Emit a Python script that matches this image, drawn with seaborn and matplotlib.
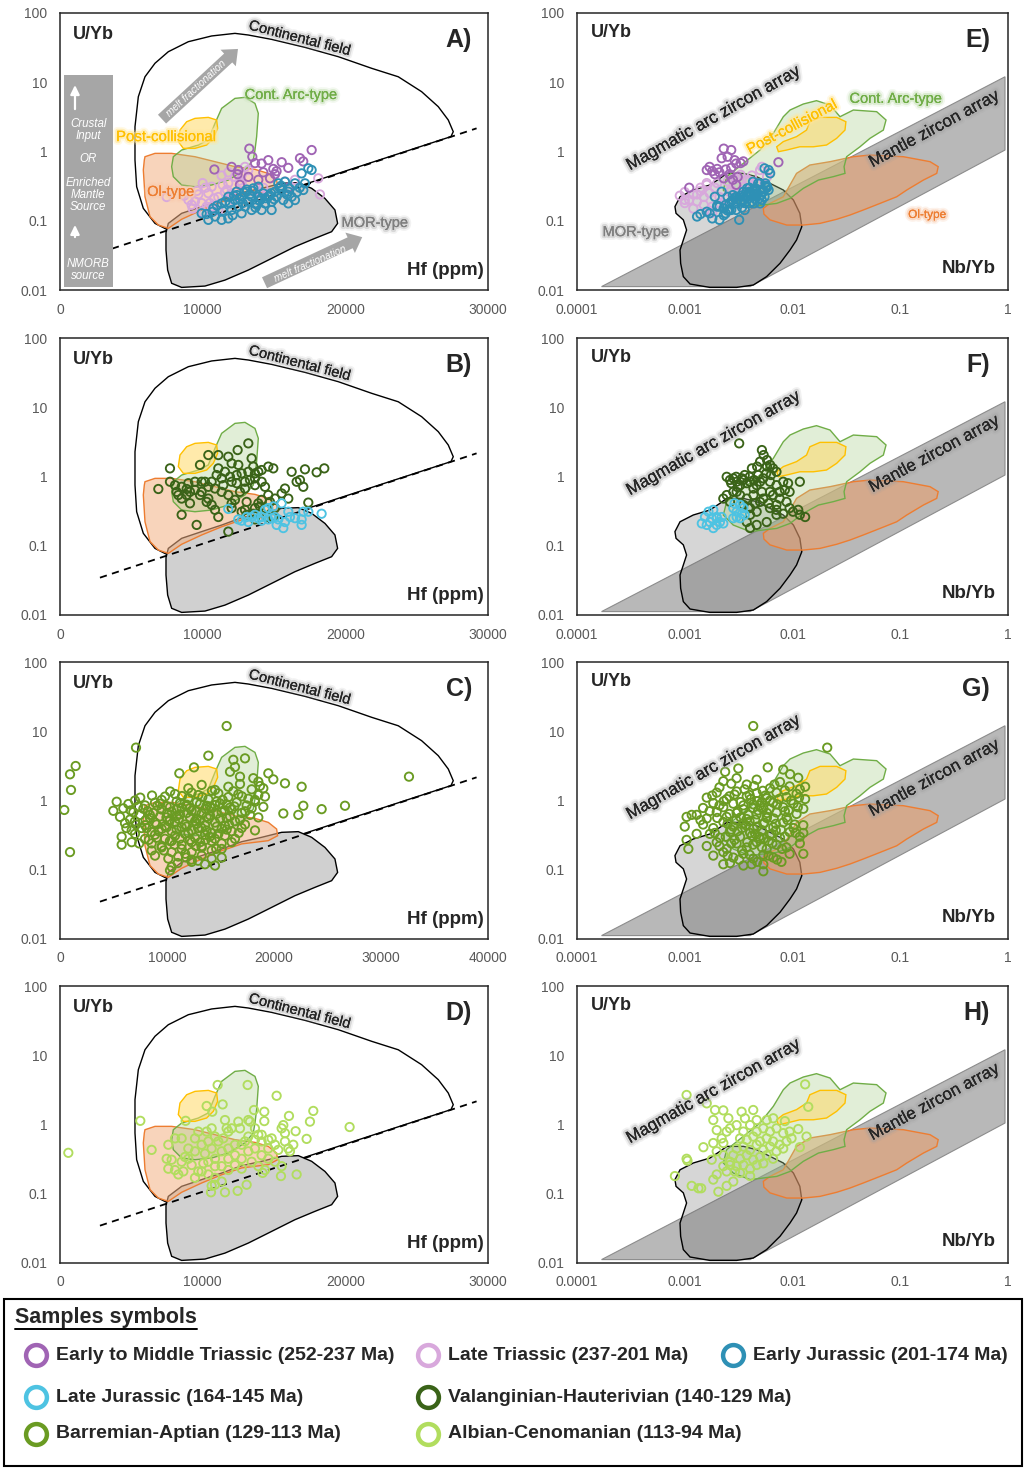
import numpy as np
import matplotlib
matplotlib.use("Agg")
import matplotlib.pyplot as plt
import matplotlib.patheffects as pe
from matplotlib.patches import Rectangle
from matplotlib.colors import to_rgba
from matplotlib.ticker import NullLocator
import seaborn as sns

sns.set_theme(style="white")
plt.rcParams["font.family"] = ["Liberation Sans", "DejaVu Sans"]

# ---------------------------------------------------------------- colours
C_ETR = "#a064b4"   # Early to Middle Triassic
C_LTR = "#d8a8dc"   # Late Triassic
C_EJ = "#2e90b5"    # Early Jurassic
C_LJ = "#4ec3e2"    # Late Jurassic
C_VH = "#3a6318"    # Valanginian-Hauterivian
C_BA = "#6a9b22"    # Barremian-Aptian
C_AC = "#b1dd5e"    # Albian-Cenomanian

# ------------------------------------------------- discrimination fields
# Hf (ppm) vs U/Yb  (fields outlined on a 0-30000 ppm axis)
cont_hf = [7476, 6658, 5840, 5373, 5256, 5256, 5490, 5957, 6658, 7592, 8994, 10629,
           12264, 13199, 14834, 17170, 19506, 21842, 23711, 25346, 26514, 27215,
           27565, 27402]
cont_uyb = [0.0752, 0.0916, 0.151, 0.310, 0.753, 2.28, 6.18, 12.0, 18.8, 27.6, 38.5,
            46.6, 50.8, 48.1, 41.6, 31.9, 23.4, 15.9, 12.0, 7.31, 4.44, 2.85, 1.93, 1.64]
morh_hf = [7592, 8527, 9928, 11330, 12732, 14133, 15535, 16703, 17637, 18572, 19272,
           19459, 19039, 17871, 16469, 14834, 13199, 11564, 10162, 8527, 7826, 7546,
           7429, 7429]
morh_uyb = [0.0916, 0.128, 0.160, 0.199, 0.254, 0.294, 0.347, 0.355, 0.294, 0.210,
            0.143, 0.0916, 0.0695, 0.0557, 0.0422, 0.0286, 0.0194, 0.0139, 0.0114,
            0.0109, 0.0125, 0.0194, 0.0378, 0.0673]
oih_hf = [5957, 6658, 7826, 9461, 10863, 12264, 13666, 14600, 15184, 15254, 14600,
          12732, 11330, 9928, 8527, 7592, 6892, 6308, 5957, 5840, 5910]
oih_uyb = [0.841, 0.940, 0.940, 0.841, 0.713, 0.604, 0.552, 0.483, 0.387, 0.310,
           0.263, 0.236, 0.188, 0.143, 0.105, 0.0776, 0.0867, 0.115, 0.222, 0.541, 0.753]
arch_hf = [7826, 7943, 8527, 9695, 10396, 10863, 11330, 12264, 12965, 13666, 13900,
           13783, 13666, 13549, 12965, 11797, 10629, 9461, 8527, 7943]
arch_uyb = [0.604, 0.841, 1.05, 1.24, 1.47, 2.55, 4.20, 5.85, 6.05, 4.95, 3.56, 1.64,
            1.05, 0.753, 0.541, 0.387, 0.328, 0.310, 0.328, 0.433]
pch_hf = [8293, 8410, 8877, 9461, 10396, 10980, 11050, 10746, 10279, 9461, 8643]
pch_uyb = [1.39, 2.04, 2.69, 3.01, 3.11, 2.85, 2.16, 1.55, 1.24, 1.11, 1.11]
divide_hf = [2800, 29200]
divide_uyb = [0.0346, 2.16]

# Nb/Yb vs U/Yb
mantle_nb = [0.000169, 0.938, 0.938, 0.00404]
mantle_uyb = [0.0112, 12.0, 1.05, 0.0112]
morn_nb = [0.000811, 0.000904, 0.00120, 0.00171, 0.00212, 0.00245, 0.00350, 0.00465,
           0.00618, 0.00822, 0.0102, 0.0117, 0.0122, 0.0109, 0.00948, 0.00766,
           0.00575, 0.00433, 0.00303, 0.00171, 0.00112, 0.000970, 0.000916, 0.000904,
           0.000970, 0.00104, 0.000970, 0.000830]
morn_uyb = [0.160, 0.222, 0.278, 0.328, 0.409, 0.483, 0.483, 0.433, 0.347, 0.278,
            0.199, 0.128, 0.0820, 0.0527, 0.0378, 0.0243, 0.0156, 0.0118, 0.0109,
            0.0109, 0.0122, 0.0156, 0.0243, 0.0378, 0.0527, 0.0735, 0.103, 0.128]
arcn_nb = [0.00822, 0.00948, 0.0126, 0.0167, 0.0223, 0.0276, 0.0367, 0.0604, 0.0738,
           0.0697, 0.0524, 0.0423, 0.0318, 0.0301, 0.0307, 0.0239, 0.0174, 0.0126,
           0.00948, 0.00713, 0.00536, 0.00404, 0.00282, 0.00228, 0.00245, 0.00350,
           0.00499, 0.00664]
arcn_uyb = [3.18, 3.97, 4.85, 5.42, 4.69, 3.18, 3.97, 3.76, 2.85, 2.04, 1.55, 1.17,
            0.841, 0.604, 0.483, 0.433, 0.387, 0.294, 0.210, 0.178, 0.169, 0.160,
            0.199, 0.278, 0.433, 0.675, 1.05, 1.83]
pcn_nb = [0.00713, 0.00822, 0.0109, 0.0135, 0.0145, 0.0180, 0.0257, 0.0313, 0.0307,
          0.0257, 0.0207, 0.0156, 0.0117, 0.00883, 0.00740]
pcn_uyb = [1.17, 1.39, 1.64, 2.04, 2.69, 3.11, 3.11, 2.69, 2.04, 1.55, 1.24, 1.17,
           1.17, 1.05, 0.993]
oin_nb = [0.00536, 0.00618, 0.00822, 0.0109, 0.0145, 0.0223, 0.0367, 0.0524, 0.107,
          0.189, 0.225, 0.218, 0.164, 0.115, 0.0927, 0.0649, 0.0454, 0.0342, 0.0257,
          0.0180, 0.0126, 0.00883, 0.00618, 0.00543]
oin_uyb = [0.151, 0.178, 0.222, 0.483, 0.638, 0.713, 0.841, 0.889, 0.841, 0.713,
           0.604, 0.483, 0.387, 0.278, 0.222, 0.178, 0.143, 0.121, 0.105, 0.0916,
           0.0867, 0.0867, 0.103, 0.125]

# ----------------------------------------------------------- zircon data
# Early to Middle Triassic (A, E)
etr_hf = [13270, 17640, 13480, 16820, 14600, 17050, 15540, 13670, 14130, 12030, 16000,
          14950, 10820, 12500, 15180, 14250, 15070, 12450, 13200, 14720, 13900, 16000,
          12610]
etr_nb = [0.0023, 0.0027, 0.0025, 0.0022, 0.0029, 0.0035, 0.0074, 0.0033, 0.0030,
          0.0017, 0.0027, 0.0020, 0.0024, 0.0016, 0.0018, 0.0021, 0.0026, 0.0019,
          0.0031, 0.0023, 0.0028, 0.0011, 0.0030]
etr_uyb = [1.10, 1.05, 0.84, 0.80, 0.75, 0.72, 0.70, 0.68, 0.67, 0.60, 0.58, 0.56,
           0.55, 0.54, 0.52, 0.50, 0.47, 0.47, 0.43, 0.41, 0.39, 0.30, 0.33]

# Late Triassic (A, E)
ltr_hf = [12965, 13199, 11797, 12732, 11330, 12264, 18104, 16469, 15768, 11797, 12732,
          10629, 14250, 13666, 14016, 11564, 10396, 18221, 9695, 7476, 11096, 12148,
          9461, 9928, 9227, 10279, 10629, 11096, 10045,
          9000, 9600, 10200, 10800, 11400, 12000, 9300, 10500, 11700, 8700, 12600, 10000]
ltr_nb = [0.0052, 0.0050, 0.0062, 0.0033, 0.0042, 0.0058, 0.0030, 0.0038, 0.0025,
          0.0020, 0.0046, 0.0035, 0.0014, 0.0035, 0.0010, 0.0026, 0.0017, 0.0012,
          0.0013, 0.0021, 0.0015, 0.0010, 0.0013, 0.0010, 0.0015, 0.0018, 0.0023,
          0.0017, 0.0018,
          0.0011, 0.0014, 0.0019, 0.0024, 0.0016, 0.0029, 0.0012, 0.0021, 0.0027,
          0.0009, 0.0040, 0.0016]
ltr_uyb = [0.60, 0.54, 0.50, 0.46, 0.45, 0.43, 0.41, 0.39, 0.37, 0.35, 0.35, 0.31,
           0.30, 0.28, 0.26, 0.26, 0.25, 0.24, 0.24, 0.22, 0.22, 0.20, 0.19, 0.18,
           0.17, 0.16, 0.16, 0.14, 0.13,
           0.20, 0.27, 0.30, 0.21, 0.33, 0.25, 0.15, 0.18, 0.28, 0.23, 0.38, 0.35]

# Early Jurassic (A, E)
ej_hf = [10279, 10396, 9928, 10746, 11330, 11797, 12031, 12498, 12732, 13082, 13432,
         13666, 13900, 14250, 14600, 14834, 15068, 15302, 15768, 16002, 16236, 16469,
         17053, 17170, 17637, 16936, 17404, 15535, 14133, 13432, 12732, 11797, 11330,
         13199, 12264, 13900, 14834, 16002, 14367, 13549, 12965, 11914, 10863, 12381,
         15184, 15652, 16469, 12600, 13300, 14000, 14700, 15400, 13800, 12900, 14400,
         15900, 13100, 12400, 16600,
         11000, 11600, 12200, 12800, 13500, 14100, 14800, 15500, 16100, 16800, 12100,
         13700, 15000, 10700, 11400]
ej_nb = [0.0014, 0.0021, 0.0017, 0.0023, 0.0030, 0.0035, 0.0026, 0.0021, 0.0046,
         0.0040, 0.0025, 0.0040, 0.0019, 0.0047, 0.0030, 0.0033, 0.0054, 0.0056,
         0.0043, 0.0035, 0.0055, 0.0028, 0.0060, 0.0050, 0.0060, 0.0062, 0.0055,
         0.0045, 0.0036, 0.0030, 0.0024, 0.0018, 0.0032, 0.0042, 0.0035, 0.0058,
         0.0027, 0.0044, 0.0050, 0.0038, 0.0020, 0.0026, 0.0013, 0.0022, 0.0038,
         0.0052, 0.0048, 0.0031, 0.0044, 0.0033, 0.0051, 0.0040, 0.0024, 0.0037,
         0.0029, 0.0046, 0.0053, 0.0028, 0.0041,
         0.0020, 0.0027, 0.0033, 0.0036, 0.0043, 0.0049, 0.0039, 0.0057, 0.0046,
         0.0058, 0.0023, 0.0034, 0.0045, 0.0016, 0.0025]
ej_uyb = [0.125, 0.103, 0.128, 0.151, 0.178, 0.222, 0.143, 0.160, 0.222, 0.263, 0.222,
          0.178, 0.222, 0.249, 0.222, 0.188, 0.263, 0.347, 0.366, 0.263, 0.222, 0.199,
          0.278, 0.347, 0.541, 0.483, 0.571, 0.278, 0.143, 0.143, 0.128, 0.108, 0.103,
          0.188, 0.199, 0.311, 0.143, 0.178, 0.178, 0.294, 0.160, 0.178, 0.115, 0.263,
          0.222, 0.199, 0.347, 0.205, 0.240, 0.195, 0.232, 0.300, 0.170, 0.255, 0.212,
          0.240, 0.282, 0.235, 0.258,
          0.165, 0.190, 0.230, 0.180, 0.270, 0.210, 0.250, 0.320, 0.290, 0.300, 0.120,
          0.155, 0.205, 0.135, 0.140]

# Late Jurassic (B, F)
lj_hf = [11797, 12498, 12732, 13199, 13432, 13900, 14133, 14367, 14600, 14951, 15068,
         15184, 15535, 15768, 16002, 16119, 16469, 16936, 17053, 16936, 17404, 18338,
         15652, 15302, 14834, 14600, 14133, 13666, 13082]
lj_hf_uyb = [0.34, 0.24, 0.23, 0.22, 0.26, 0.25, 0.23, 0.33, 0.35, 0.37, 0.26, 0.20,
             0.41, 0.22, 0.31, 0.26, 0.25, 0.24, 0.31, 0.20, 0.31, 0.29, 0.18, 0.24,
             0.25, 0.24, 0.26, 0.28, 0.26]
lj_nb = [0.00144, 0.00154, 0.00166, 0.00184, 0.00171, 0.00198, 0.00212, 0.00198,
         0.00178, 0.00160, 0.00184, 0.00220, 0.00282, 0.00303, 0.00326, 0.00350,
         0.00360, 0.00326, 0.00303, 0.00340, 0.00290, 0.00282, 0.00228, 0.00198]
lj_nb_uyb = [0.21, 0.26, 0.31, 0.33, 0.22, 0.20, 0.22, 0.26, 0.25, 0.20, 0.18, 0.26,
             0.35, 0.31, 0.39, 0.35, 0.28, 0.25, 0.26, 0.29, 0.41, 0.25, 0.21, 0.25]

# Valanginian-Hauterivian (B, F)
vh_hf = [13199, 12451, 10396, 9812, 7709, 11096, 11797, 12031, 12498, 13432, 13549,
         13900, 14133, 14600, 14951, 13199, 12732, 12381, 11914, 11330, 11096, 11564,
         12031, 12381, 12965, 13316, 13666, 14133, 14367, 13666, 16236, 17170, 17988,
         18525, 16586, 16820, 17053, 15768, 15535, 16002, 15068, 14717, 14133, 13900,
         13666, 14367, 15068, 17404, 14951, 14484, 13549, 12965, 12732, 12031, 11797,
         11330, 10863, 10396, 9928, 9461, 8994, 8527, 8060, 7709, 6892, 8293, 8527,
         8877, 9111, 9461, 9928, 10396, 10629, 9111, 8527, 9578, 10863, 11096, 11797,
         13082, 13666, 14016, 12965, 12615, 13666, 14600, 13082, 9812, 10279, 12031,
         12264, 11447, 10629, 10980, 10162, 8877, 8176]
vh_hf_uyb = [3.01, 2.41, 2.04, 1.47, 1.31, 2.04, 1.93, 1.55, 1.47, 1.83, 1.39, 1.17,
             1.24, 1.39, 1.31, 1.17, 1.11, 1.05, 0.99, 0.94, 1.31, 1.17, 0.84, 0.80,
             0.84, 0.89, 0.94, 0.84, 0.71, 0.75, 1.17, 1.27, 1.15, 1.31, 0.84, 0.89,
             0.71, 0.67, 0.57, 0.48, 0.48, 0.43, 0.46, 0.41, 0.35, 0.35, 0.35, 0.42,
             0.26, 0.26, 0.29, 0.33, 0.31, 0.35, 0.54, 0.60, 0.67, 0.71, 0.84, 0.84,
             0.80, 0.71, 0.75, 0.84, 0.66, 0.54, 0.48, 0.54, 0.60, 0.64, 0.60, 0.48,
             0.39, 0.41, 0.28, 0.20, 0.33, 0.26, 0.16, 0.28, 0.24, 0.37, 0.67, 0.60,
             1.11, 0.54, 0.43, 0.54, 0.43, 0.41, 0.46, 0.75, 0.84, 1.05, 0.84, 0.66, 0.60]
vh_nb = [0.0032, 0.0052, 0.0054, 0.0050, 0.0058, 0.0062, 0.0066, 0.0071, 0.0047, 0.0042,
         0.0058, 0.00245, 0.00263, 0.00282, 0.00303, 0.00326, 0.0035, 0.00376, 0.00404,
         0.00434, 0.00465, 0.0050, 0.00536, 0.00618, 0.0071, 0.0082, 0.0091, 0.0117,
         0.0094, 0.0088, 0.0071, 0.00618, 0.00536, 0.0050, 0.00465, 0.00404, 0.00376,
         0.00404, 0.00465, 0.00576, 0.0071, 0.0082, 0.0101, 0.0117, 0.0131, 0.0113,
         0.00228, 0.00263, 0.00245, 0.00282, 0.00303, 0.00326, 0.00376, 0.0035, 0.00404,
         0.00434, 0.0052, 0.00618, 0.0076, 0.0085, 0.0076, 0.0066, 0.0039, 0.0045,
         0.0060, 0.0071, 0.0094, 0.0030, 0.0034, 0.0036, 0.0040, 0.0027, 0.0031, 0.0044,
         0.0048, 0.0057, 0.0063]
vh_nb_uyb = [3.01, 2.41, 2.04, 1.64, 1.73, 1.47, 1.31, 1.17, 1.39, 1.31, 1.39, 0.99,
             0.89, 0.94, 0.84, 0.75, 0.89, 0.80, 0.84, 0.67, 0.75, 0.84, 0.94, 0.84,
             0.75, 0.84, 0.80, 0.84, 0.60, 0.43, 0.39, 0.35, 0.48, 0.43, 0.31, 0.28,
             0.22, 0.18, 0.20, 0.22, 0.28, 0.29, 0.31, 0.28, 0.26, 0.33, 0.48, 0.43,
             0.54, 0.60, 0.60, 0.54, 0.48, 0.39, 0.35, 0.54, 0.60, 0.60, 0.60, 0.64,
             0.48, 0.54, 0.35, 0.41, 0.41, 0.33, 0.35, 0.99, 0.94, 1.05, 0.99, 0.80,
             0.70, 0.89, 1.05, 1.11, 1.05]

# Barremian-Aptian (C, G)
ba_hf = [400, 935, 1028, 935, 1464, 15575, 7102, 13862, 32614, 26634, 24453, 22740,
         22584, 21027, 19937, 19469, 20871, 22272, 17289, 16198, 12522, 11152, 16354,
         16822, 15887, 18068, 18535, 19002, 19158, 18223,
         11993, 13239, 14485, 15731, 16822, 17912, 18690,
         9813, 10747, 11993, 12928, 13862, 14797, 15731, 16666, 17600, 18535,
         5296, 6386, 7009, 7944, 8878, 9969, 10903, 11838, 12772, 13707, 14641, 15575,
         16510, 17444, 18223, 19002,
         4984, 5919, 6853, 7788, 8723, 9501, 10436, 11370, 12305, 13239, 14174, 15108,
         16043, 16977, 17912,
         5607, 6542, 7477, 8411, 9346, 10280, 11215, 12149, 13084, 14018, 14953, 15887,
         16822, 17756, 18535,
         6075, 7009, 7944, 8878, 9813, 10747, 11682, 12616, 13551, 14485, 15420, 16354,
         17289,
         6698, 7632, 8567, 9501, 10436, 11370, 12305, 13239, 14174, 15108, 16043, 16977,
         18223,
         5763, 7009, 7944, 8878, 9813, 10747, 11682, 12616, 13551, 14485, 15420, 16354,
         5763, 6698, 8567, 9501, 10436, 11370, 12305, 13239, 14174, 15108, 16043,
         8567, 9501, 10436, 11370, 12305, 13239, 14174, 15108,
         8878, 10124, 11059, 12305, 13239, 14174, 15108,
         10436, 10280, 12305, 13551, 14485,
         9350, 10280, 11210, 12150, 13090, 14020, 14950, 15890,
         8400, 9950, 10900, 11840, 12780, 13700, 14640, 15580,
         8100, 9030, 9970, 10900, 11840, 12780, 13700, 14640, 15580,
         9030, 10270, 11200, 12150, 13100, 14000,
         7500, 8600, 9500, 10300, 11400, 12300, 13300, 14200, 15200, 16200, 17000,
         6600, 7300, 8200, 9100, 10000, 10900, 11800, 12700, 13600, 14500, 15400,
         16300, 17300,
         6200, 7100, 8000, 9200, 10200, 11100, 12000, 12900, 13900, 14800, 15800, 16700,
         7400, 8300, 9700, 10700, 11700, 12700, 13600, 14600,
         11000, 11800, 12900]
ba_hf_uyb = [0.73, 0.18, 1.42, 2.39, 3.15, 11.9, 5.80, 4.44, 2.21, 0.84, 0.75, 0.84,
             1.58, 1.77, 2.02, 2.47, 0.65, 0.62, 4.06, 3.87, 3.01, 2.47, 3.05, 2.21,
             2.60, 2.10, 1.87, 1.50, 1.14, 1.02,
             1.50, 1.68, 1.42, 1.58, 1.73, 1.45, 1.62,
             1.14, 1.24, 1.08, 1.20, 1.04, 1.27, 1.12, 1.23, 1.06, 1.20,
             0.96, 0.89, 1.00, 0.85, 0.93, 0.83, 0.97, 0.87, 0.95, 0.84, 0.97, 0.88,
             0.94, 0.85, 0.96, 0.81,
             0.71, 0.77, 0.68, 0.76, 0.66, 0.74, 0.69, 0.78, 0.71, 0.65, 0.77, 0.68,
             0.74, 0.66, 0.77,
             0.58, 0.53, 0.62, 0.56, 0.59, 0.53, 0.63, 0.57, 0.52, 0.61, 0.55, 0.59,
             0.53, 0.62, 0.57,
             0.47, 0.50, 0.44, 0.48, 0.43, 0.49, 0.45, 0.50, 0.44, 0.48, 0.43, 0.50,
             0.45,
             0.37, 0.40, 0.35, 0.39, 0.36, 0.41, 0.37, 0.40, 0.34, 0.39, 0.36, 0.40,
             0.37,
             0.30, 0.33, 0.28, 0.32, 0.28, 0.31, 0.33, 0.29, 0.32, 0.28, 0.31, 0.28,
             0.23, 0.25, 0.24, 0.22, 0.26, 0.23, 0.25, 0.22, 0.26, 0.24, 0.25,
             0.19, 0.21, 0.18, 0.20, 0.18, 0.21, 0.19, 0.20,
             0.16, 0.145, 0.155, 0.14, 0.16, 0.145, 0.15,
             0.11, 0.098, 0.13, 0.12, 0.115,
             0.90, 0.80, 0.92, 0.78, 0.89, 0.82, 0.91, 0.79,
             0.62, 0.57, 0.60, 0.66, 0.55, 0.58, 0.64, 0.56,
             0.40, 0.45, 0.41, 0.38, 0.42, 0.46, 0.37, 0.42, 0.38,
             0.29, 0.26, 0.28, 0.27, 0.25, 0.30,
             1.10, 1.18, 1.02, 1.35, 1.16, 1.30, 1.12, 1.38, 1.02, 1.36, 1.15,
             0.72, 0.82, 0.70, 0.84, 0.66, 0.75, 0.83, 0.69, 0.76, 0.86, 0.72, 0.82, 0.70,
             0.40, 0.45, 0.52, 0.36, 0.50, 0.54, 0.34, 0.40, 0.55, 0.33, 0.45, 0.34,
             0.24, 0.27, 0.19, 0.23, 0.17, 0.22, 0.27, 0.20,
             0.125, 0.15, 0.135]
ba_nb = [0.00432, 0.0210, 0.00589, 0.00237, 0.00314, 0.00104, 0.00116, 0.00108, 0.00104,
         0.00100, 0.00129, 0.0082, 0.0095, 0.0113, 0.0131, 0.0126, 0.0126, 0.0079,
         0.00536, 0.00418, 0.00228,
         0.00228, 0.00303, 0.00376, 0.00465, 0.00618, 0.00766, 0.0094, 0.0117,
         0.0016, 0.00198, 0.00245, 0.00303, 0.00376, 0.00465, 0.00576, 0.0071, 0.0088,
         0.0109, 0.0131,
         0.00148, 0.00184, 0.00228, 0.00282, 0.0035, 0.00432, 0.00536, 0.00663, 0.0082,
         0.0102, 0.0126,
         0.00129, 0.0016, 0.00198, 0.00245, 0.00303, 0.00376, 0.00465, 0.00576, 0.0071,
         0.0088, 0.0109,
         0.00148, 0.00184, 0.00228, 0.00282, 0.0035, 0.00432, 0.00536, 0.00663, 0.0082,
         0.0102, 0.0126,
         0.00171, 0.00212, 0.00263, 0.00326, 0.00404, 0.00499, 0.00618, 0.00766, 0.0094,
         0.0117,
         0.0016, 0.00198, 0.00245, 0.00303, 0.00376, 0.00465, 0.00576, 0.0071, 0.0088,
         0.0117,
         0.00184, 0.00228, 0.00282, 0.0035, 0.00432, 0.00536, 0.00663, 0.0094,
         0.00263, 0.0035, 0.00536,
         0.0026, 0.0033, 0.0041, 0.0050, 0.0062, 0.0031, 0.0039, 0.0048, 0.0058, 0.0030,
         0.0037, 0.0045, 0.0055, 0.0067, 0.0027, 0.0034, 0.0042, 0.0052, 0.0064, 0.0029,
         0.0038, 0.0049, 0.0060, 0.0078, 0.0085,
         0.0021, 0.0027, 0.0036, 0.0044, 0.0053, 0.0068, 0.0085,
         0.0018, 0.0023, 0.0029, 0.0040, 0.0047, 0.0056, 0.0075, 0.0097, 0.0115,
         0.0017, 0.0021, 0.0026, 0.0035, 0.0043, 0.0052, 0.0061, 0.0072, 0.0092, 0.0112,
         0.0014, 0.0020, 0.0025, 0.0033, 0.0040, 0.0047, 0.0058, 0.0070, 0.0090, 0.0105,
         0.0019, 0.0024, 0.0031, 0.0045, 0.0054, 0.0070, 0.0085, 0.0107,
         0.0021, 0.0027, 0.0034, 0.0043, 0.0052, 0.0065, 0.0080,
         0.0025, 0.0032, 0.0040, 0.0047, 0.0060, 0.0072]
ba_nb_uyb = [11.9, 5.80, 3.01, 2.60, 2.90, 0.58, 0.62, 0.20, 0.27, 0.42, 0.33, 2.80,
             2.40, 2.13, 1.58, 0.34, 0.17, 0.13, 0.095, 0.12, 0.12,
             1.90, 2.10, 1.70, 2.00, 1.50, 1.85, 1.60, 1.45,
             1.10, 1.30, 1.05, 1.35, 1.15, 1.28, 1.08, 1.30, 1.12, 1.25, 1.05,
             0.78, 0.92, 0.80, 0.90, 0.75, 0.88, 0.78, 0.93, 0.80, 0.90, 0.76,
             0.62, 0.55, 0.68, 0.58, 0.66, 0.54, 0.63, 0.56, 0.67, 0.57, 0.64,
             0.45, 0.40, 0.49, 0.42, 0.47, 0.39, 0.46, 0.41, 0.48, 0.40, 0.44,
             0.33, 0.29, 0.35, 0.30, 0.34, 0.28, 0.32, 0.29, 0.35, 0.30,
             0.22, 0.25, 0.20, 0.24, 0.21, 0.25, 0.20, 0.23, 0.21, 0.24,
             0.16, 0.18, 0.15, 0.17, 0.145, 0.165, 0.15, 0.17,
             0.125, 0.115, 0.12,
             1.15, 0.95, 1.05, 0.85, 1.00, 0.70, 0.62, 0.72, 0.66, 0.52, 0.44, 0.53,
             0.48, 0.55, 0.38, 0.40, 0.31, 0.37, 0.33, 0.27, 0.25, 0.30, 0.26, 0.38, 0.70,
             1.55, 1.75, 1.45, 1.62, 1.38, 1.70, 1.40,
             1.18, 0.98, 1.22, 1.20, 0.98, 1.18, 1.05, 1.00, 1.10,
             0.70, 0.85, 0.64, 0.85, 0.78, 0.95, 0.75, 0.88, 0.72, 0.80,
             0.52, 0.56, 0.46, 0.57, 0.50, 0.42, 0.58, 0.46, 0.52, 0.45,
             0.34, 0.30, 0.36, 0.33, 0.28, 0.37, 0.30, 0.34,
             0.22, 0.24, 0.19, 0.23, 0.21, 0.24, 0.20,
             0.16, 0.14, 0.165, 0.13, 0.16, 0.14]

# Albian-Cenomanian (D, H)
ac_hf = [584, 5630, 11050, 13152, 15184, 17754, 16049, 17520, 20300, 6424, 16586,
         15488, 14203, 12451, 11564, 10583, 13082, 10863, 17287, 16516, 15652, 14320,
         14320, 13596, 11400, 10279, 10676, 8807,
         7592, 7476, 7592, 8060, 8293, 8644, 7826, 8527, 9228, 9461, 9695, 10045,
         10162, 9928, 10396, 10629, 10863, 11096, 11447, 11797, 11564, 11680, 12031,
         12498, 12615, 13199, 13316, 13666, 13900, 14133, 14600, 14834, 15068, 15302,
         15768, 16002, 16119, 16352, 15768, 15535, 12965, 12264, 11797, 11330, 10863,
         10396, 9461, 8994, 8760, 9928, 10396, 10863, 11330, 11797, 12264, 12732,
         13199, 13666, 14133, 14600, 15068, 15535, 12732, 13199, 13666, 14133, 14600,
         13432, 13900, 14367, 10629, 10279, 9695, 9461, 8994, 8527, 8060, 12264,
         12732, 11797, 11330, 10863, 10629]
ac_hf_uyb = [0.39, 1.13, 3.72, 3.72, 2.60, 1.57, 1.33, 1.10, 0.92, 0.43, 0.19, 0.18,
             0.20, 0.11, 0.105, 0.105, 0.135, 0.135, 0.62, 0.80, 0.98, 1.53, 1.12,
             1.62, 1.95, 1.85, 1.53, 1.13,
             0.51, 0.32, 0.23, 0.22, 0.19, 0.21, 0.31, 0.29, 0.26, 0.17, 0.21, 0.275,
             0.38, 0.51, 0.57, 0.45, 0.67, 0.57, 0.63, 0.79, 1.16, 0.88, 0.88, 1.10,
             0.88, 1.16, 1.10, 0.88, 0.71, 0.57, 0.60, 0.63, 0.51, 0.43, 0.57, 0.45,
             0.41, 0.51, 0.75, 0.88, 0.57, 0.51, 0.45, 0.41, 0.32, 0.29, 0.41, 0.45,
             0.34, 0.21, 0.19, 0.17, 0.15, 0.22, 0.26, 0.32, 0.41, 0.45, 0.36, 0.32,
             0.29, 0.25, 0.51, 0.67, 0.60, 0.71, 0.45, 0.29, 0.25, 0.22, 0.88, 0.79,
             0.79, 0.63, 0.32, 0.63, 0.63, 0.36, 0.23, 0.32, 0.25, 0.25, 0.13]
ac_nb = [0.00104, 0.0131, 0.0140, 0.0016, 0.00191, 0.00228, 0.00337, 0.00432, 0.00184,
         0.00254, 0.00263, 0.00198, 0.00362, 0.00465, 0.00576, 0.00663, 0.0085, 0.0113,
         0.0098, 0.0117, 0.0135, 0.00149, 0.00184, 0.00228, 0.00198, 0.00178, 0.00104,
         0.00106, 0.00081, 0.00116, 0.00134, 0.00142, 0.00198, 0.00184, 0.00205,
         0.00245, 0.00282, 0.00292, 0.00263, 0.00228,
         0.00303, 0.0035, 0.00404, 0.00465, 0.00536, 0.00618, 0.0071, 0.0082, 0.0094,
         0.00326, 0.00376, 0.00432, 0.0050, 0.00576, 0.0066, 0.0076, 0.0088,
         0.00303, 0.0035, 0.00404, 0.00465, 0.00536, 0.00618, 0.0071, 0.0082,
         0.00282, 0.00326, 0.00376, 0.00432, 0.0050, 0.00576, 0.0066,
         0.00263, 0.00303, 0.0035, 0.00404, 0.00465, 0.00536,
         0.00245, 0.00326, 0.00404, 0.00228, 0.00245, 0.0022]
ac_nb_uyb = [2.67, 3.80, 1.80, 2.02, 1.62, 1.60, 1.53, 1.62, 1.16, 1.23, 0.88, 0.83,
             1.23, 1.16, 1.16, 1.23, 1.12, 0.86, 0.63, 0.47, 0.67, 0.47, 0.54, 0.54,
             0.41, 0.31, 0.32, 0.30, 0.18, 0.13, 0.12, 0.12, 0.19, 0.16, 0.107, 0.13,
             0.15, 0.21, 0.26, 0.25,
             0.98, 0.79, 0.98, 0.79, 0.88, 0.79, 0.88, 0.75, 0.79,
             0.63, 0.60, 0.67, 0.57, 0.63, 0.57, 0.51, 0.57,
             0.45, 0.48, 0.43, 0.51, 0.43, 0.48, 0.41, 0.45,
             0.36, 0.32, 0.36, 0.31, 0.34, 0.36, 0.32,
             0.29, 0.25, 0.26, 0.23, 0.26, 0.275,
             0.21, 0.20, 0.18, 0.36, 0.79, 0.63]

# ----------------------------------------------------------- legend text
legend_labels = ["Early to Middle Triassic (252-237 Ma)", "Late Triassic (237-201 Ma)",
                 "Early Jurassic (201-174 Ma)", "Late Jurassic (164-145 Ma)",
                 "Valanginian-Hauterivian (140-129 Ma)", "Barremian-Aptian (129-113 Ma)",
                 "Albian-Cenomanian (113-94 Ma)"]
legend_colors = [C_ETR, C_LTR, C_EJ, C_LJ, C_VH, C_BA, C_AC]

# ================================================================ figure
W, H = 1024, 1468
fig = plt.figure(figsize=(W / 100, H / 100), dpi=100)
fig.patch.set_facecolor("white")

row_tops = [13, 338, 662, 986]
AX_H = 277


def axes_at(left_px, width_px, top_px):
    return fig.add_axes([left_px / W, 1 - (top_px + AX_H) / H, width_px / W, AX_H / H])


TICK_COLOR = "#595959"


def glow(color, width=3.0, alpha=0.45):
    return [pe.withStroke(linewidth=width + 2.5, foreground=color, alpha=alpha * 0.4),
            pe.withStroke(linewidth=width, foreground=color, alpha=alpha),
            pe.Normal()]


def style_axes(ax):
    ax.set_yscale("log")
    ax.set_ylim(0.01, 100)
    ax.set_yticks([0.01, 0.1, 1, 10, 100])
    ax.set_yticklabels(["0.01", "0.1", "1", "10", "100"])
    ax.yaxis.set_minor_locator(NullLocator())
    ax.tick_params(length=0, labelsize=10, labelcolor=TICK_COLOR, pad=9)
    for sp in ax.spines.values():
        sp.set_color("#262626")
        sp.set_linewidth(1.1)
    ax.set_xlabel("")
    ax.set_ylabel("")


def points(ax, x, y, color):
    sns.scatterplot(x=x, y=y, ax=ax, marker="o", s=36, color=color, facecolor="none",
                    edgecolor=color, linewidth=1.35, zorder=6, legend=False)


def fill(ax, x, y, face, alpha, edge, lw=1.0, z=2):
    ax.fill(x, y, facecolor=to_rgba(face, alpha), edgecolor=edge, linewidth=lw, zorder=z)


def hf_panel(ax, letter, xmax, series, full_labels=False):
    k = xmax / 30000.0          # field template stretched to the axis width
    sx = lambda a: np.asarray(a) * k
    fill(ax, sx(cont_hf), cont_uyb, "white", 0.0, "black", 1.0, 1)
    fill(ax, sx(morh_hf), morh_uyb, "#d0d0d0", 1.0, "black", 1.0, 2)
    fill(ax, sx(oih_hf), oih_uyb, "#f4b183", 0.55, "#ed7d31", 1.0, 3)
    fill(ax, sx(arch_hf), arch_uyb, "#a9d18e", 0.35, "#70ad47", 1.0, 4)
    fill(ax, sx(pch_hf), pch_uyb, "#ffd966", 0.55, "#ffc000", 1.0, 4)
    ax.plot(sx(divide_hf), divide_uyb, color="black", lw=1.3, ls=(0, (4, 3)), zorder=5)
    for x, y, c in series:
        points(ax, x, y, c)
    style_axes(ax)
    ax.set_xlim(0, xmax)
    ticks = np.arange(0, xmax + 1, 10000)
    ax.set_xticks(ticks)
    ax.set_xticklabels([str(int(t)) for t in ticks])
    ax.xaxis.set_minor_locator(NullLocator())

    t = ax.transAxes
    ax.text(0.030, 0.921, "U/Yb", transform=t, fontsize=13, fontweight="bold",
            ha="left", va="center", zorder=9)
    ax.text(0.963, 0.903, letter, transform=t, fontsize=18, fontweight="bold",
            ha="right", va="center", zorder=9)
    ax.text(0.991, 0.072, "Hf (ppm)", transform=t, fontsize=13.5, fontweight="bold",
            ha="right", va="center", zorder=9)
    ax.text(0.561, 0.908, "Continental field", transform=t, fontsize=10.5,
            rotation=-14.5, rotation_mode="anchor", ha="center", va="center",
            path_effects=glow("#b0b0b0", 3, 0.4), zorder=9)
    if full_labels:
        ax.text(0.540, 0.704, "Cont. Arc-type", transform=t, fontsize=10.5,
                color="#70ad47", ha="center", va="center",
                path_effects=glow("#c5e0b4", 3, 0.5), zorder=9)
        ax.text(0.248, 0.552, "Post-collisional", transform=t, fontsize=10.8,
                color="#ffc000", ha="center", va="center",
                path_effects=glow("#ffe699", 3, 0.6), zorder=9)
        ax.text(0.259, 0.354, "Ol-type", transform=t, fontsize=10.5,
                color="#ed7d31", ha="center", va="center",
                path_effects=glow("#f8cbad", 3, 0.6), zorder=9)
        ax.text(0.736, 0.242, "MOR-type", transform=t, fontsize=10.5,
                color="#7f7f7f", ha="center", va="center",
                path_effects=glow("#bfbfbf", 3, 0.5), zorder=9)
        # source box on the left edge
        ax.add_patch(Rectangle((0.0093, 0.011), 0.1145, 0.765, transform=t,
                               facecolor="#a6a6a6", edgecolor="none", zorder=7))
        for y, s in [(0.578, "Crustal\nInput"), (0.473, "OR"),
                     (0.343, "Enriched\nMantle\nSource"), (0.072, "NMORB\nsource")]:
            ax.text(0.066, y, s, transform=t, fontsize=8.3, style="italic",
                    color="white", ha="center", va="center", linespacing=1.05,
                    zorder=8)
        for y0, y1 in [(0.643, 0.750), (0.181, 0.245)]:
            ax.annotate("", xy=(0.035, y1), xytext=(0.035, y0), xycoords=t,
                        arrowprops=dict(arrowstyle="-|>,head_width=0.22,head_length=0.45",
                                        color="white", lw=1.6), zorder=8)
        # melt fractionation trends
        for (x0, y0), (x1, y1), (tx, ty), rot in [
                ((0.2336, 0.610), (0.4206, 0.877), (0.318, 0.729), 43),
                ((0.472, 0.022), (0.712, 0.195), (0.584, 0.094), 23.5)]:
            ax.annotate("", xy=(x1, y1), xytext=(x0, y0), xycoords=t,
                        arrowprops=dict(arrowstyle="simple,head_width=1.35,head_length=0.8,tail_width=0.72",
                                        color="#a6a6a6", lw=0, mutation_scale=12),
                        zorder=7)
            ax.text(tx, ty, "melt fractionation", transform=t, fontsize=7.3,
                    style="italic", color="white", rotation=rot,
                    rotation_mode="anchor", ha="center", va="center", zorder=8)


def nb_panel(ax, letter, series, full_labels=False):
    fill(ax, mantle_nb, mantle_uyb, "#b8b8b8", 1.0, "#8c8c8c", 0.8, 1)
    fill(ax, morn_nb, morn_uyb, "#6e6e6e", 0.28, "black", 1.0, 2)
    fill(ax, oin_nb, oin_uyb, "#e8a070", 0.6, "#ed7d31", 1.0, 3)
    fill(ax, arcn_nb, arcn_uyb, "#a9d18e", 0.35, "#70ad47", 1.0, 4)
    fill(ax, pcn_nb, pcn_uyb, "#ffd966", 0.55, "#ffc000", 1.0, 4)
    for x, y, c in series:
        points(ax, x, y, c)
    style_axes(ax)
    ax.set_xscale("log")
    ax.set_xlim(1e-4, 1)
    ax.set_xticks([1e-4, 1e-3, 1e-2, 1e-1, 1])
    ax.set_xticklabels(["0.0001", "0.001", "0.01", "0.1", "1"])
    ax.xaxis.set_minor_locator(NullLocator())

    t = ax.transAxes
    ax.text(0.0325, 0.928, "U/Yb", transform=t, fontsize=13, fontweight="bold",
            ha="left", va="center", zorder=9)
    ax.text(0.958, 0.903, letter, transform=t, fontsize=18, fontweight="bold",
            ha="right", va="center", zorder=9)
    ax.text(0.972, 0.076, "Nb/Yb", transform=t, fontsize=13.5, fontweight="bold",
            ha="right", va="center", zorder=9)
    ax.text(0.318, 0.621, "Magmatic arc zircon array", transform=t, fontsize=12.3,
            rotation=29.4, rotation_mode="anchor", ha="center", va="center",
            path_effects=glow("#a0a0a0", 3.5, 0.35), zorder=9)
    ax.text(0.830, 0.582, "Mantle zircon array", transform=t, fontsize=12.3,
            rotation=28.3, rotation_mode="anchor", ha="center", va="center",
            path_effects=glow("#a0a0a0", 3.5, 0.35), zorder=9)
    if full_labels:
        ax.text(0.740, 0.690, "Cont. Arc-type", transform=t, fontsize=10.5,
                color="#70ad47", ha="center", va="center",
                path_effects=glow("#c5e0b4", 3, 0.5), zorder=9)
        ax.text(0.499, 0.588, "Post-collisional", transform=t, fontsize=10.8,
                color="#ffc000", rotation=28, rotation_mode="anchor", ha="center",
                va="center", path_effects=glow("#ffe699", 3, 0.6), zorder=9)
        ax.text(0.137, 0.209, "MOR-type", transform=t, fontsize=10.5,
                color="#7f7f7f", ha="center", va="center",
                path_effects=glow("#bfbfbf", 3, 0.5), zorder=9)
        ax.text(0.812, 0.271, "Ol-type", transform=t, fontsize=8.5,
                color="#ed7d31", ha="center", va="center",
                path_effects=glow("#f8cbad", 3, 0.6), zorder=9)


axA = axes_at(60, 428, row_tops[0])
axB = axes_at(60, 428, row_tops[1])
axC = axes_at(60, 428, row_tops[2])
axD = axes_at(60, 428, row_tops[3])
axE = axes_at(577, 431, row_tops[0])
axF = axes_at(577, 431, row_tops[1])
axG = axes_at(577, 431, row_tops[2])
axH = axes_at(577, 431, row_tops[3])

hf_panel(axA, "A)", 30000, [(ltr_hf, ltr_uyb, C_LTR), (etr_hf, etr_uyb, C_ETR),
                            (ej_hf, ej_uyb, C_EJ)], full_labels=True)
hf_panel(axB, "B)", 30000, [(vh_hf, vh_hf_uyb, C_VH), (lj_hf, lj_hf_uyb, C_LJ)])
hf_panel(axC, "C)", 40000, [(ba_hf, ba_hf_uyb, C_BA)])
hf_panel(axD, "D)", 30000, [(ac_hf, ac_hf_uyb, C_AC)])

nb_panel(axE, "E)", [(ltr_nb, ltr_uyb, C_LTR), (etr_nb, etr_uyb, C_ETR),
                     (ej_nb, ej_uyb, C_EJ)], full_labels=True)
nb_panel(axF, "F)", [(vh_nb, vh_nb_uyb, C_VH), (lj_nb, lj_nb_uyb, C_LJ)])
nb_panel(axG, "G)", [(ba_nb, ba_nb_uyb, C_BA)])
nb_panel(axH, "H)", [(ac_nb, ac_nb_uyb, C_AC)])

# ------------------------------------------------------------ legend box
lg = fig.add_axes([0, 0, 1, 1])
lg.set_xlim(0, W)
lg.set_ylim(H, 0)
lg.axis("off")
lg.patch.set_visible(False)
lg.add_patch(Rectangle((4, 1299), 1018, 167, facecolor="none", edgecolor="black",
                       linewidth=1.5))
lg.text(15, 1317, "Samples symbols", fontsize=15.5, fontweight="bold",
        ha="left", va="center")
lg.plot([15, 197], [1328.5, 1328.5], color="black", lw=1.4)
slots = [(36, 1355), (428, 1355), (733, 1355), (36, 1397), (428, 1397),
         (36, 1434), (428, 1434)]
for (mx, my), lab, col in zip(slots, legend_labels, legend_colors):
    lg.plot([mx], [my], marker="o", ms=15, mfc="none", mec=col, mew=3.2)
    lg.text(mx + 20, my, lab, fontsize=14, fontweight="bold", ha="left",
            va="center")

fig.savefig("out.png", dpi=100, facecolor="white")
